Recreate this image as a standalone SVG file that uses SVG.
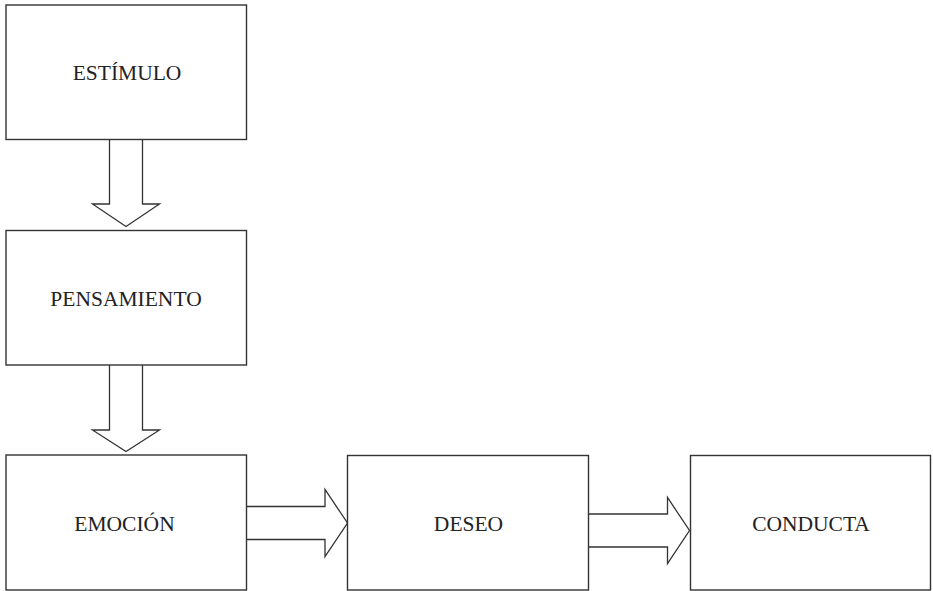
<svg xmlns="http://www.w3.org/2000/svg" width="933" height="591" viewBox="0 0 933 591">
  <style>
    .box { fill: #ffffff; stroke: #333333; stroke-width: 1.4; }
    .arrow { fill: #ffffff; stroke: #333333; stroke-width: 1.3; stroke-linejoin: miter; }
    .label { font-family: "Liberation Serif", "Times New Roman", serif; font-size: 21.5px; fill: #222222; text-anchor: middle; }
  </style>
  <rect width="933" height="591" fill="#ffffff"/>

  <!-- block arrows between stages -->
  <g id="connectors">
    <path class="arrow" d="M109.5,139 V204 H92.5 L126,226.5 L159.5,204 H142.5 V139"/>
    <path class="arrow" d="M109.5,365 V430 H92.5 L126,451.5 L159.5,430 H142.5 V365"/>
    <path class="arrow" d="M246.5,506.5 H325 V489.5 L347.5,523 L325,556.5 V539.5 H246.5"/>
    <path class="arrow" d="M588.5,514 H667.5 V497.5 L689.5,530.5 L667.5,563.5 V547 H588.5"/>
  </g>

  <g id="estimulo">
    <rect class="box" x="6" y="5" width="240.5" height="134.5"/>
    <text class="label" x="127" y="80">ESTÍMULO</text>
  </g>

  <g id="pensamiento">
    <rect class="box" x="6" y="230.5" width="240.5" height="134.5"/>
    <text class="label" x="126" y="306">PENSAMIENTO</text>
  </g>

  <g id="emocion">
    <rect class="box" x="6" y="455" width="240.5" height="135"/>
    <text class="label" x="124.5" y="531">EMOCIÓN</text>
  </g>

  <g id="deseo">
    <rect class="box" x="347.5" y="455.5" width="241" height="134.5"/>
    <text class="label" x="468.5" y="531">DESEO</text>
  </g>

  <g id="conducta">
    <rect class="box" x="690.5" y="455.5" width="240" height="134.5"/>
    <text class="label" x="811" y="531">CONDUCTA</text>
  </g>
</svg>
